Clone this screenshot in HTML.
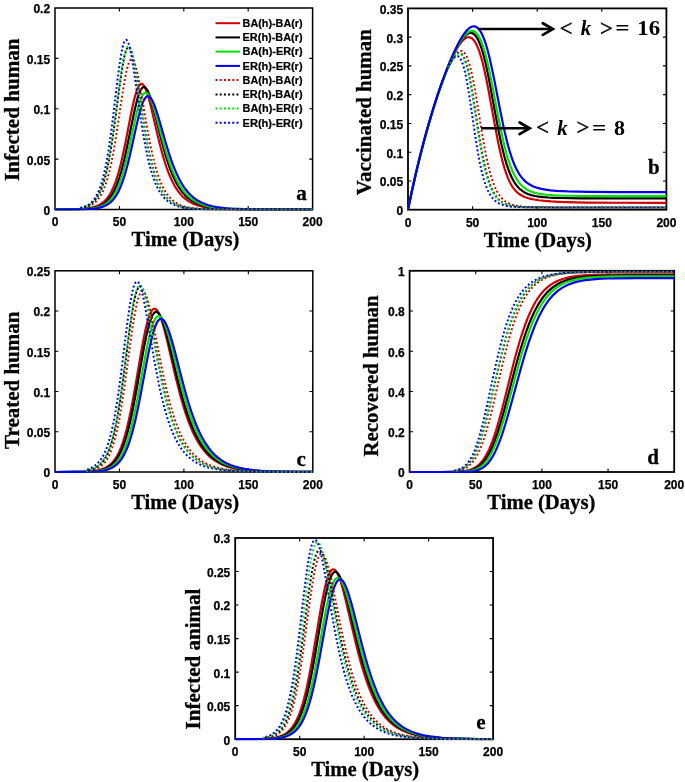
<!DOCTYPE html>
<html><head><meta charset="utf-8"><title>Figure</title>
<style>html,body{margin:0;padding:0;background:#fff;}body{width:685px;height:782px;overflow:hidden;font-family:"Liberation Sans",sans-serif;}svg{display:block;will-change:transform;}</style>
</head><body>
<svg width="685" height="782" viewBox="0 0 685 782">
<rect width="685" height="782" fill="#fff"/>
<defs>
<clipPath id="cpa"><rect x="54.50" y="7.50" width="258.60" height="203.10"/></clipPath>
<clipPath id="cpb"><rect x="407.50" y="7.90" width="259.40" height="202.90"/></clipPath>
<clipPath id="cpc"><rect x="54.50" y="270.30" width="258.80" height="202.80"/></clipPath>
<clipPath id="cpd"><rect x="409.10" y="270.30" width="265.60" height="202.80"/></clipPath>
<clipPath id="cpe"><rect x="234.70" y="537.50" width="258.90" height="202.80"/></clipPath>
</defs>
<g stroke="#000" fill="none" stroke-linecap="butt">
<rect x="55.00" y="8.00" width="257.60" height="201.50" stroke-width="1.50"/>
<path d="M119.40,209.50v-3.40M119.40,8.00v3.40M183.80,209.50v-3.40M183.80,8.00v3.40M248.20,209.50v-3.40M248.20,8.00v3.40M55.00,159.12h3.40M312.60,159.12h-3.40M55.00,108.75h3.40M312.60,108.75h-3.40M55.00,58.38h3.40M312.60,58.38h-3.40" stroke-width="1.10"/>
</g>
<g font-family="Liberation Sans, sans-serif" font-weight="bold" font-size="12" fill="#000" stroke="#000" stroke-width="0.25">
<text x="55.00" y="226.40" text-anchor="middle">0</text>
<text x="119.40" y="226.40" text-anchor="middle">50</text>
<text x="183.80" y="226.40" text-anchor="middle">100</text>
<text x="248.20" y="226.40" text-anchor="middle">150</text>
<text x="312.60" y="226.40" text-anchor="middle">200</text>
<text x="50.10" y="214.90" text-anchor="end">0</text>
<text x="50.10" y="164.53" text-anchor="end">0.05</text>
<text x="50.10" y="114.15" text-anchor="end">0.1</text>
<text x="50.10" y="63.77" text-anchor="end">0.15</text>
<text x="50.10" y="13.40" text-anchor="end">0.2</text>
</g>
<g clip-path="url(#cpa)" fill="none" stroke-width="2.20" stroke-linejoin="round">
<path d="M55.00,209.48 L70.13,209.35 L75.29,209.23 L79.79,209.03 L83.66,208.76 L86.88,208.42 L89.78,207.98 L92.67,207.37 L95.25,206.62 L97.50,205.75 L99.76,204.63 L101.69,203.42 L103.62,201.93 L105.55,200.08 L107.16,198.23 L108.77,196.04 L110.06,194.01 L111.35,191.70 L112.64,189.10 L113.93,186.16 L115.21,182.87 L116.18,180.15 L117.47,176.19 L118.43,172.94 L119.40,169.46 L120.69,164.46 L121.98,159.06 L123.26,153.27 L125.84,140.73 L131.31,112.58 L132.92,104.97 L134.53,98.18 L135.50,94.61 L136.47,91.48 L137.43,88.86 L138.08,87.40 L139.04,85.67 L139.69,84.83 L140.33,84.26 L140.65,84.06 L141.30,83.87 L141.94,83.94 L142.26,84.07 L142.91,84.51 L143.55,85.20 L144.52,86.66 L145.16,87.91 L146.13,90.17 L146.77,91.91 L147.74,94.83 L149.35,100.41 L150.96,106.67 L158.04,136.90 L159.65,143.45 L161.26,149.68 L163.19,156.64 L165.12,163.00 L166.73,167.83 L168.67,173.08 L170.60,177.76 L172.85,182.54 L174.78,186.10 L177.04,189.70 L179.29,192.78 L181.55,195.40 L182.83,196.71 L184.12,197.90 L186.70,199.97 L187.99,200.87 L189.60,201.87 L192.49,203.40 L195.71,204.74 L198.93,205.79 L202.48,206.68 L206.66,207.46 L211.17,208.06 L216.32,208.54 L221.47,208.85 L227.27,209.09 L242.08,209.37 L263.98,209.48 L312.60,209.50" stroke="#d40000"/>
<path d="M55.00,209.49 L71.42,209.39 L76.90,209.28 L81.40,209.12 L85.27,208.89 L88.81,208.56 L91.71,208.16 L94.28,207.67 L96.86,207.00 L99.11,206.23 L101.37,205.22 L103.30,204.12 L105.23,202.75 L107.16,201.05 L108.77,199.34 L110.38,197.30 L111.67,195.41 L112.96,193.26 L114.25,190.83 L115.54,188.08 L116.82,184.99 L117.79,182.44 L119.08,178.71 L120.04,175.65 L121.33,171.23 L122.62,166.41 L123.91,161.20 L125.20,155.64 L127.77,143.58 L133.57,114.93 L135.18,107.65 L136.79,101.15 L137.75,97.72 L138.72,94.72 L139.69,92.17 L140.33,90.74 L141.30,89.03 L142.26,87.85 L142.91,87.35 L143.23,87.20 L143.87,87.07 L144.52,87.17 L144.84,87.31 L145.48,87.76 L146.13,88.43 L147.09,89.84 L147.74,91.02 L148.70,93.15 L149.67,95.66 L150.63,98.51 L152.24,103.87 L153.85,109.83 L160.62,137.02 L162.55,144.45 L164.16,150.32 L166.09,156.91 L168.02,162.96 L169.95,168.46 L171.89,173.41 L173.82,177.84 L176.07,182.40 L178.00,185.82 L180.26,189.30 L182.51,192.29 L184.77,194.86 L186.05,196.16 L187.34,197.34 L189.92,199.41 L191.21,200.31 L192.82,201.33 L195.71,202.88 L198.93,204.27 L202.15,205.37 L206.02,206.38 L210.20,207.20 L214.71,207.85 L219.86,208.37 L225.02,208.72 L230.81,208.99 L237.57,209.19 L245.95,209.33 L267.84,209.47 L312.60,209.50" stroke="#000000"/>
<path d="M55.00,209.49 L72.39,209.41 L82.37,209.19 L86.23,209.00 L89.78,208.72 L93.00,208.34 L95.57,207.90 L98.15,207.30 L100.40,206.60 L102.66,205.68 L104.59,204.67 L106.52,203.42 L108.45,201.85 L110.06,200.27 L111.67,198.39 L112.96,196.63 L114.25,194.63 L115.54,192.36 L116.82,189.79 L118.11,186.91 L119.08,184.52 L120.37,181.02 L121.33,178.15 L122.62,174.00 L123.91,169.47 L125.20,164.57 L126.48,159.32 L129.06,147.94 L135.18,119.28 L136.79,112.40 L138.40,106.26 L139.36,103.02 L140.33,100.17 L141.30,97.74 L142.26,95.77 L143.23,94.28 L144.19,93.28 L144.84,92.89 L145.16,92.77 L145.80,92.71 L146.45,92.86 L146.77,93.02 L147.41,93.49 L148.06,94.15 L149.02,95.52 L149.67,96.65 L150.63,98.67 L151.60,101.02 L152.57,103.69 L154.18,108.68 L155.79,114.20 L162.87,140.62 L164.80,147.50 L166.41,152.94 L168.34,159.05 L170.28,164.68 L172.21,169.81 L174.14,174.45 L176.07,178.62 L178.33,182.92 L180.26,186.17 L182.51,189.49 L184.77,192.37 L186.05,193.83 L187.34,195.17 L189.92,197.52 L192.49,199.50 L195.39,201.34 L198.29,202.85 L201.51,204.20 L205.05,205.38 L208.92,206.36 L213.10,207.17 L217.61,207.80 L222.76,208.32 L227.91,208.68 L233.71,208.96 L240.47,209.16 L248.84,209.31 L270.42,209.46 L312.60,209.50" stroke="#00e000"/>
<path d="M55.00,209.49 L73.68,209.43 L83.98,209.25 L87.84,209.09 L91.39,208.85 L94.61,208.52 L97.18,208.14 L99.76,207.61 L102.33,206.88 L104.59,206.02 L106.52,205.08 L108.45,203.90 L110.38,202.42 L111.99,200.92 L113.60,199.13 L115.21,197.00 L116.50,195.03 L118.11,192.17 L119.40,189.55 L121.01,185.83 L122.30,182.45 L123.59,178.72 L124.87,174.61 L127.13,166.56 L129.38,157.47 L131.64,147.58 L136.14,126.96 L138.08,118.63 L140.01,111.17 L141.62,105.89 L142.58,103.20 L143.23,101.64 L144.19,99.65 L144.84,98.57 L145.80,97.32 L146.45,96.75 L147.09,96.38 L147.41,96.27 L148.06,96.21 L148.70,96.35 L149.02,96.49 L149.67,96.91 L150.31,97.52 L151.28,98.77 L152.24,100.39 L153.21,102.34 L154.18,104.60 L155.14,107.13 L156.75,111.84 L158.36,117.02 L165.77,142.80 L167.70,149.22 L169.31,154.30 L171.24,160.03 L173.17,165.33 L175.11,170.18 L177.04,174.59 L178.97,178.58 L181.22,182.72 L183.48,186.35 L185.73,189.52 L187.99,192.29 L190.56,195.00 L193.14,197.30 L195.71,199.24 L198.61,201.07 L201.83,202.72 L205.05,204.06 L208.59,205.23 L212.46,206.22 L216.64,207.04 L221.15,207.69 L226.30,208.23 L231.46,208.61 L237.57,208.91 L244.34,209.13 L252.39,209.29 L273.32,209.45 L312.60,209.50" stroke="#0000f0"/>
<path d="M79.47,208.51 L82.05,208.12 L84.62,207.59 L86.88,206.95 L88.81,206.25 L90.74,205.35 L92.35,204.43 L93.96,203.30 L95.57,201.93 L97.18,200.27 L98.47,198.69 L99.76,196.87 L101.05,194.75 L102.33,192.31 L103.30,190.25 L104.59,187.14 L105.55,184.53 L106.52,181.65 L107.49,178.48 L108.45,175.02 L109.42,171.25 L111.35,162.73 L113.28,152.88 L114.89,143.69 L116.50,133.71 L121.65,99.09 L123.26,88.68 L124.55,81.02 L125.84,74.21 L126.81,69.80 L127.45,67.24 L128.09,65.00 L128.74,63.12 L129.70,60.97 L130.35,60.01 L130.99,59.43 L131.31,59.29 L131.64,59.24 L131.96,59.29 L132.28,59.43 L132.92,60.00 L133.57,60.94 L134.53,63.00 L135.18,64.78 L135.82,66.88 L136.47,69.26 L137.43,73.31 L138.72,79.48 L140.33,88.12 L146.45,124.17 L149.35,140.01 L150.96,147.99 L152.57,155.30 L154.18,161.92 L156.11,169.00 L157.72,174.19 L159.65,179.64 L161.58,184.31 L163.51,188.30 L164.48,190.07 L165.77,192.21 L166.73,193.66 L168.02,195.42 L168.99,196.61 L170.28,198.05 L171.56,199.34 L172.85,200.48 L174.14,201.49 L175.43,202.40 L178.00,203.91 L179.29,204.55 L180.90,205.24 L183.80,206.25 L187.02,207.10 L190.88,207.83 L195.07,208.37 L200.22,208.81 L205.05,209.06 L210.53,209.24 L225.34,209.43 L247.56,209.49 L312.60,209.50" stroke="#d40000" stroke-width="2.0" stroke-dasharray="1.9 2.3" stroke-dashoffset="3.70"/>
<path d="M79.47,208.24 L81.73,207.80 L83.98,207.22 L85.91,206.57 L87.84,205.74 L89.78,204.67 L91.39,203.56 L93.00,202.20 L94.28,200.90 L95.57,199.38 L96.86,197.60 L98.15,195.53 L99.44,193.12 L100.72,190.33 L101.69,187.95 L102.98,184.37 L103.94,181.35 L104.91,178.01 L105.88,174.33 L106.84,170.30 L107.81,165.90 L109.42,157.71 L111.35,146.45 L112.64,138.12 L114.25,126.87 L119.08,90.23 L120.69,78.48 L121.98,69.88 L123.26,62.32 L124.23,57.49 L124.87,54.73 L125.52,52.38 L126.16,50.44 L126.81,48.95 L127.45,47.90 L127.77,47.55 L128.09,47.31 L128.42,47.19 L128.74,47.18 L129.06,47.28 L129.38,47.50 L130.03,48.26 L130.67,49.45 L131.31,51.05 L131.96,53.04 L132.60,55.39 L133.25,58.08 L134.21,62.67 L135.50,69.67 L136.79,77.43 L142.91,117.62 L144.52,127.60 L145.80,135.13 L147.41,143.88 L149.02,151.86 L150.63,159.06 L152.24,165.50 L154.18,172.28 L156.11,178.11 L158.04,183.09 L159.97,187.33 L160.94,189.19 L162.23,191.45 L163.19,192.99 L164.48,194.84 L165.45,196.09 L166.73,197.60 L168.02,198.94 L169.31,200.14 L170.60,201.20 L171.89,202.14 L173.17,202.98 L174.46,203.72 L175.75,204.38 L177.36,205.10 L180.26,206.15 L183.80,207.10 L187.66,207.83 L191.85,208.38 L197.00,208.81 L201.83,209.06 L207.31,209.24 L222.44,209.44 L312.60,209.50" stroke="#000000" stroke-width="2.0" stroke-dasharray="1.9 2.3" stroke-dashoffset="3.45"/>
<path d="M79.47,208.21 L81.73,207.77 L83.98,207.18 L85.91,206.51 L87.84,205.65 L89.78,204.56 L91.39,203.42 L93.00,202.02 L94.28,200.68 L95.57,199.11 L96.86,197.28 L98.15,195.15 L99.44,192.67 L100.72,189.79 L101.69,187.34 L102.66,184.62 L103.62,181.61 L104.59,178.27 L105.55,174.60 L106.52,170.58 L107.49,166.17 L109.10,157.97 L111.03,146.67 L112.64,136.10 L114.25,124.61 L118.76,90.01 L120.37,78.14 L121.65,69.45 L122.94,61.81 L123.91,56.93 L124.55,54.15 L125.20,51.78 L125.84,49.83 L126.48,48.32 L127.13,47.28 L127.45,46.93 L127.77,46.69 L128.09,46.57 L128.42,46.57 L128.74,46.68 L129.06,46.91 L129.70,47.69 L130.35,48.92 L130.99,50.55 L131.64,52.58 L132.28,54.97 L132.92,57.70 L133.89,62.36 L135.18,69.44 L136.47,77.29 L142.26,115.70 L143.87,125.84 L145.16,133.50 L146.77,142.41 L148.38,150.55 L149.99,157.90 L151.60,164.49 L153.53,171.42 L155.46,177.38 L157.40,182.48 L159.33,186.81 L160.29,188.73 L161.58,191.04 L162.55,192.61 L163.84,194.50 L164.80,195.78 L166.09,197.33 L167.38,198.70 L168.67,199.92 L169.95,201.01 L171.24,201.97 L172.53,202.83 L173.82,203.59 L175.11,204.26 L176.72,205.00 L179.61,206.07 L183.16,207.05 L187.02,207.80 L191.21,208.35 L196.36,208.79 L201.19,209.05 L206.66,209.23 L221.80,209.44 L244.66,209.49 L312.60,209.50" stroke="#00e000" stroke-width="2.0" stroke-dasharray="1.9 2.3" stroke-dashoffset="2.12"/>
<path d="M79.47,208.07 L81.73,207.56 L83.98,206.86 L85.91,206.08 L87.52,205.25 L89.13,204.23 L90.74,202.96 L92.03,201.74 L93.32,200.30 L94.61,198.61 L95.89,196.61 L97.18,194.27 L98.15,192.26 L99.44,189.20 L100.40,186.57 L101.37,183.65 L102.33,180.39 L103.30,176.77 L104.27,172.78 L105.88,165.21 L107.49,156.43 L109.42,144.27 L110.71,135.20 L112.32,122.92 L116.82,85.59 L118.43,72.75 L119.72,63.39 L121.01,55.21 L122.30,48.55 L122.94,45.86 L123.59,43.65 L124.23,41.93 L124.87,40.72 L125.20,40.30 L125.52,40.02 L125.84,39.86 L126.16,39.83 L126.48,39.92 L126.81,40.14 L127.45,40.96 L128.09,42.25 L128.74,44.01 L129.38,46.19 L130.03,48.77 L131.31,55.00 L132.60,62.40 L133.89,70.68 L139.69,111.51 L141.30,122.27 L142.58,130.39 L144.19,139.82 L145.80,148.41 L147.41,156.13 L149.02,163.03 L150.96,170.27 L152.89,176.48 L154.82,181.78 L156.75,186.26 L157.72,188.24 L159.01,190.62 L159.97,192.24 L161.26,194.18 L162.23,195.50 L163.51,197.09 L164.80,198.50 L166.09,199.75 L167.38,200.86 L168.67,201.85 L169.95,202.72 L171.24,203.50 L172.53,204.18 L174.14,204.93 L177.04,206.03 L180.58,207.01 L184.44,207.78 L188.63,208.34 L193.78,208.79 L198.61,209.05 L204.09,209.23 L219.22,209.44 L242.08,209.49 L312.60,209.50" stroke="#0000f0" stroke-width="2.0" stroke-dasharray="1.9 2.3" stroke-dashoffset="3.57"/>
</g>
<text transform="translate(18.60,109.65) rotate(-90)" text-anchor="middle" font-family="Liberation Serif, serif" font-weight="bold" font-size="20.7" textLength="142.5" lengthAdjust="spacingAndGlyphs" fill="#000" stroke="#000" stroke-width="0.3">Infected human</text>
<text x="185.50" y="245.90" text-anchor="middle" font-family="Liberation Serif, serif" font-weight="bold" font-size="20.7" textLength="108" lengthAdjust="spacingAndGlyphs" fill="#000" stroke="#000" stroke-width="0.3">Time (Days)</text>
<text x="301.50" y="200.40" text-anchor="middle" font-family="Liberation Serif, serif" font-weight="bold" font-size="21" fill="#000" stroke="#000" stroke-width="0.3">a</text>
<g stroke="#000" fill="none" stroke-linecap="butt">
<rect x="408.00" y="8.40" width="258.40" height="201.30" stroke-width="1.80"/>
<path d="M472.60,209.70v-3.40M472.60,8.40v3.40M537.20,209.70v-3.40M537.20,8.40v3.40M601.80,209.70v-3.40M601.80,8.40v3.40M408.00,180.94h3.40M666.40,180.94h-3.40M408.00,152.19h3.40M666.40,152.19h-3.40M408.00,123.43h3.40M666.40,123.43h-3.40M408.00,94.67h3.40M666.40,94.67h-3.40M408.00,65.91h3.40M666.40,65.91h-3.40M408.00,37.16h3.40M666.40,37.16h-3.40" stroke-width="1.10"/>
</g>
<g font-family="Liberation Sans, sans-serif" font-weight="bold" font-size="12" fill="#000" stroke="#000" stroke-width="0.25">
<text x="408.00" y="226.60" text-anchor="middle">0</text>
<text x="472.60" y="226.60" text-anchor="middle">50</text>
<text x="537.20" y="226.60" text-anchor="middle">100</text>
<text x="601.80" y="226.60" text-anchor="middle">150</text>
<text x="666.40" y="226.60" text-anchor="middle">200</text>
<text x="403.10" y="215.10" text-anchor="end">0</text>
<text x="403.10" y="186.34" text-anchor="end">0.05</text>
<text x="403.10" y="157.59" text-anchor="end">0.1</text>
<text x="403.10" y="128.83" text-anchor="end">0.15</text>
<text x="403.10" y="100.07" text-anchor="end">0.2</text>
<text x="403.10" y="71.31" text-anchor="end">0.25</text>
<text x="403.10" y="42.56" text-anchor="end">0.3</text>
<text x="403.10" y="13.80" text-anchor="end">0.35</text>
</g>
<g clip-path="url(#cpb)" fill="none" stroke-width="2.20" stroke-linejoin="round">
<path d="M408.00,209.38 L411.55,192.59 L415.43,175.34 L419.31,159.14 L423.50,142.70 L427.70,127.35 L431.90,113.02 L436.10,99.67 L440.30,87.27 L442.56,81.00 L444.50,75.85 L446.76,70.11 L448.70,65.44 L450.64,61.02 L452.57,56.85 L454.51,52.97 L456.45,49.40 L458.06,46.69 L459.68,44.26 L461.30,42.12 L462.91,40.31 L464.52,38.87 L465.82,38.02 L466.79,37.57 L467.43,37.36 L468.08,37.24 L468.72,37.20 L469.69,37.30 L470.34,37.48 L471.31,37.94 L471.95,38.37 L472.92,39.21 L473.57,39.91 L474.86,41.65 L475.83,43.27 L476.48,44.50 L477.77,47.34 L479.06,50.70 L480.35,54.59 L481.64,59.00 L482.94,63.92 L484.23,69.32 L485.84,76.71 L488.75,91.47 L494.89,125.26 L497.47,138.82 L499.09,146.67 L500.38,152.51 L501.67,157.94 L502.96,162.93 L504.58,168.53 L506.19,173.44 L507.81,177.69 L508.78,179.95 L509.75,182.00 L510.71,183.85 L511.68,185.53 L512.65,187.05 L513.62,188.41 L515.56,190.74 L516.53,191.73 L517.82,192.90 L519.11,193.91 L520.40,194.78 L521.70,195.55 L522.99,196.21 L524.60,196.93 L526.22,197.54 L527.83,198.06 L529.77,198.59 L533.97,199.50 L538.81,200.24 L544.63,200.88 L551.09,201.39 L558.19,201.79 L566.59,202.11 L575.96,202.35 L587.26,202.53 L616.01,202.73 L666.40,202.79" stroke="#d40000"/>
<path d="M408.00,209.52 L411.55,192.75 L415.43,175.53 L419.31,159.36 L423.50,142.95 L427.70,127.63 L431.90,113.32 L436.10,99.98 L438.36,93.18 L440.62,86.64 L442.88,80.37 L445.14,74.36 L447.41,68.62 L449.34,63.93 L451.61,58.73 L453.54,54.53 L455.48,50.58 L457.42,46.91 L459.36,43.55 L460.97,41.02 L462.91,38.35 L464.52,36.47 L466.14,34.94 L467.43,34.01 L468.40,33.49 L469.05,33.23 L469.69,33.06 L470.34,32.97 L471.31,33.00 L471.95,33.13 L472.60,33.35 L473.25,33.68 L474.21,34.37 L474.86,34.96 L476.15,36.50 L477.12,37.96 L477.77,39.09 L479.06,41.74 L480.35,44.92 L481.64,48.64 L482.94,52.89 L484.23,57.67 L485.52,62.96 L487.13,70.22 L488.43,76.48 L490.04,84.77 L496.18,118.25 L499.09,133.33 L500.70,141.06 L501.99,146.84 L503.61,153.49 L504.90,158.35 L506.51,163.84 L508.45,169.59 L510.07,173.73 L512.01,177.98 L513.94,181.52 L514.91,183.07 L516.20,184.90 L517.17,186.13 L518.47,187.60 L519.43,188.58 L520.73,189.74 L522.99,191.43 L524.28,192.23 L525.57,192.93 L526.86,193.54 L528.48,194.20 L531.39,195.15 L534.94,195.99 L538.81,196.63 L543.34,197.14 L548.50,197.52 L554.32,197.80 L561.42,198.02 L580.48,198.29 L608.91,198.40 L666.40,198.43" stroke="#000000"/>
<path d="M408.00,209.52 L411.88,191.28 L415.75,174.15 L419.63,158.06 L423.83,141.74 L428.03,126.50 L430.29,118.71 L432.55,111.21 L436.75,98.01 L439.01,91.28 L441.27,84.81 L443.53,78.60 L445.79,72.65 L448.05,66.97 L450.31,61.56 L452.57,56.45 L454.51,52.31 L456.45,48.43 L458.39,44.81 L460.33,41.50 L461.94,39.01 L463.88,36.36 L465.49,34.49 L467.11,32.95 L468.72,31.80 L469.69,31.31 L470.34,31.07 L471.63,30.84 L472.60,30.87 L473.25,31.01 L474.21,31.39 L474.86,31.76 L475.83,32.51 L476.48,33.15 L477.77,34.75 L478.74,36.25 L479.38,37.41 L480.67,40.08 L481.97,43.26 L483.26,46.95 L484.55,51.14 L485.84,55.83 L487.13,60.99 L488.75,68.05 L491.66,82.13 L498.12,116.07 L500.70,129.01 L502.32,136.55 L503.93,143.57 L505.55,150.01 L506.84,154.74 L508.45,160.12 L510.39,165.79 L512.33,170.68 L514.27,174.83 L516.20,178.34 L517.17,179.88 L518.47,181.72 L519.43,182.97 L520.73,184.46 L522.02,185.78 L523.31,186.94 L525.57,188.65 L526.86,189.47 L528.16,190.20 L529.45,190.84 L531.06,191.53 L532.68,192.12 L534.29,192.63 L537.85,193.51 L541.72,194.19 L546.24,194.74 L551.74,195.19 L557.55,195.49 L564.65,195.73 L583.39,196.02 L611.49,196.15 L666.40,196.18" stroke="#00e000"/>
<path d="M408.00,209.41 L411.88,191.15 L416.07,172.61 L420.27,155.29 L424.47,139.09 L428.67,123.96 L433.19,108.76 L437.72,94.64 L439.98,87.96 L442.24,81.54 L444.82,74.51 L447.08,68.63 L449.34,63.00 L451.61,57.63 L453.87,52.55 L455.80,48.43 L458.06,43.93 L460.00,40.36 L461.94,37.08 L463.88,34.14 L465.82,31.57 L467.43,29.76 L469.05,28.29 L470.66,27.19 L471.63,26.73 L472.28,26.51 L473.57,26.31 L474.54,26.37 L475.18,26.51 L476.15,26.90 L476.80,27.28 L477.77,28.04 L478.41,28.67 L479.71,30.25 L480.67,31.73 L481.32,32.87 L482.61,35.49 L483.90,38.60 L485.20,42.19 L486.49,46.27 L488.10,52.05 L489.40,57.17 L491.01,64.14 L493.92,77.98 L500.38,111.21 L503.28,125.40 L504.90,132.71 L506.51,139.50 L508.13,145.75 L509.42,150.33 L511.04,155.54 L512.98,161.05 L514.91,165.81 L516.85,169.87 L518.79,173.31 L519.76,174.82 L521.05,176.65 L522.02,177.88 L523.31,179.36 L524.60,180.68 L525.89,181.84 L527.19,182.88 L528.48,183.80 L531.06,185.34 L533.97,186.68 L535.59,187.29 L537.52,187.92 L541.40,188.90 L545.60,189.67 L550.44,190.29 L556.26,190.81 L562.39,191.18 L569.82,191.48 L578.54,191.71 L589.20,191.87 L616.66,192.04 L666.40,192.10" stroke="#0000f0"/>
<path d="M448.05,68.34 L449.67,64.85 L451.28,61.63 L452.90,58.71 L454.19,56.62 L455.48,54.80 L456.77,53.27 L458.06,52.07 L459.03,51.42 L459.68,51.12 L460.33,50.93 L461.30,50.87 L462.26,51.10 L463.23,51.66 L464.20,52.55 L465.17,53.82 L466.14,55.47 L467.11,57.54 L468.08,60.04 L468.72,61.94 L470.02,66.34 L471.31,71.52 L472.92,79.02 L474.21,85.77 L475.83,94.95 L481.64,130.84 L484.23,145.82 L485.84,154.31 L487.13,160.52 L488.43,166.20 L490.04,172.54 L491.66,178.06 L492.63,181.00 L493.59,183.68 L495.21,187.62 L496.18,189.68 L497.15,191.55 L498.12,193.23 L499.09,194.74 L500.06,196.10 L501.35,197.70 L502.64,199.08 L503.93,200.26 L505.22,201.29 L506.51,202.17 L508.45,203.26 L510.71,204.25 L513.30,205.10 L515.88,205.72 L518.79,206.22 L522.34,206.64 L526.22,206.93 L530.74,207.13 L539.78,207.31 L553.67,207.38 L666.40,207.40" stroke="#d40000" stroke-width="2.0" stroke-dasharray="1.9 2.3" stroke-dashoffset="3.32"/>
<path d="M448.05,67.72 L449.34,64.95 L450.64,62.37 L451.93,60.02 L453.22,57.92 L454.51,56.12 L455.48,54.99 L456.77,53.83 L457.74,53.25 L458.71,52.94 L459.68,52.94 L460.65,53.28 L461.62,53.99 L462.59,55.10 L463.23,56.08 L464.20,57.92 L464.85,59.40 L466.14,63.03 L467.43,67.54 L468.72,72.92 L470.34,80.82 L471.63,87.97 L472.92,95.71 L478.41,131.32 L481.00,147.01 L482.61,155.82 L483.90,162.22 L485.20,168.02 L486.49,173.22 L488.10,178.91 L489.72,183.77 L491.33,187.87 L492.30,190.01 L493.27,191.93 L494.24,193.65 L495.21,195.19 L496.18,196.56 L497.47,198.17 L498.44,199.21 L499.73,200.43 L501.02,201.48 L502.32,202.36 L504.25,203.46 L506.51,204.44 L508.78,205.18 L511.36,205.80 L514.27,206.30 L517.50,206.67 L521.37,206.95 L526.22,207.16 L534.94,207.32 L548.83,207.39 L666.40,207.40" stroke="#000000" stroke-width="2.0" stroke-dasharray="1.9 2.3" stroke-dashoffset="3.73"/>
<path d="M448.05,67.67 L449.34,64.91 L450.64,62.35 L451.93,60.02 L453.22,57.96 L454.51,56.21 L455.48,55.14 L456.45,54.28 L457.42,53.69 L458.39,53.37 L459.36,53.37 L460.33,53.72 L461.30,54.44 L462.26,55.57 L462.91,56.57 L463.88,58.45 L464.52,59.97 L465.82,63.68 L467.11,68.29 L468.40,73.80 L470.02,81.86 L471.31,89.14 L472.60,97.02 L477.77,130.87 L480.35,146.73 L481.97,155.64 L483.26,162.11 L484.55,167.97 L485.84,173.22 L487.46,178.96 L489.07,183.85 L490.69,187.97 L491.66,190.11 L492.63,192.04 L493.59,193.76 L494.56,195.30 L495.53,196.67 L496.82,198.27 L497.79,199.31 L499.09,200.53 L500.38,201.56 L501.67,202.44 L503.61,203.52 L505.87,204.49 L508.13,205.22 L510.71,205.84 L513.62,206.32 L516.85,206.69 L520.73,206.97 L525.57,207.17 L534.29,207.32 L548.18,207.39 L666.40,207.40" stroke="#00e000" stroke-width="2.0" stroke-dasharray="1.9 2.3" stroke-dashoffset="4.13"/>
<path d="M448.05,67.65 L449.34,64.99 L450.31,63.15 L451.61,60.95 L452.57,59.52 L453.54,58.30 L454.51,57.33 L455.48,56.63 L456.13,56.33 L457.10,56.17 L457.74,56.27 L458.39,56.54 L458.71,56.75 L459.36,57.32 L460.33,58.56 L460.97,59.66 L461.62,61.00 L462.26,62.59 L463.56,66.51 L464.52,70.12 L465.82,75.82 L467.11,82.49 L468.40,90.00 L469.69,98.20 L474.86,133.57 L477.12,147.97 L478.41,155.42 L479.71,162.22 L481.00,168.35 L482.29,173.79 L483.90,179.69 L485.52,184.67 L487.13,188.82 L488.10,190.96 L489.07,192.86 L490.04,194.56 L491.01,196.06 L491.98,197.39 L492.95,198.57 L493.92,199.62 L495.21,200.82 L496.18,201.60 L497.47,202.50 L499.41,203.60 L501.67,204.57 L503.93,205.29 L506.51,205.89 L509.42,206.37 L512.65,206.72 L516.53,206.98 L521.05,207.16 L530.09,207.32 L544.31,207.39 L666.40,207.40" stroke="#0000f0" stroke-width="2.0" stroke-dasharray="1.9 2.3" stroke-dashoffset="1.37"/>
</g>
<text transform="translate(370.70,112.20) rotate(-90)" text-anchor="middle" font-family="Liberation Serif, serif" font-weight="bold" font-size="20.7" textLength="166.0" lengthAdjust="spacingAndGlyphs" fill="#000" stroke="#000" stroke-width="0.3">Vaccinated human</text>
<text x="537.80" y="246.50" text-anchor="middle" font-family="Liberation Serif, serif" font-weight="bold" font-size="20.7" textLength="108" lengthAdjust="spacingAndGlyphs" fill="#000" stroke="#000" stroke-width="0.3">Time (Days)</text>
<text x="653.80" y="173.70" text-anchor="middle" font-family="Liberation Serif, serif" font-weight="bold" font-size="21" fill="#000" stroke="#000" stroke-width="0.3">b</text>
<g stroke="#000" fill="none" stroke-linecap="butt">
<rect x="55.00" y="270.80" width="257.80" height="201.20" stroke-width="1.50"/>
<path d="M119.45,472.00v-3.40M119.45,270.80v3.40M183.90,472.00v-3.40M183.90,270.80v3.40M248.35,472.00v-3.40M248.35,270.80v3.40M55.00,431.76h3.40M312.80,431.76h-3.40M55.00,391.52h3.40M312.80,391.52h-3.40M55.00,351.28h3.40M312.80,351.28h-3.40M55.00,311.04h3.40M312.80,311.04h-3.40" stroke-width="1.10"/>
</g>
<g font-family="Liberation Sans, sans-serif" font-weight="bold" font-size="12" fill="#000" stroke="#000" stroke-width="0.25">
<text x="55.00" y="488.90" text-anchor="middle">0</text>
<text x="119.45" y="488.90" text-anchor="middle">50</text>
<text x="183.90" y="488.90" text-anchor="middle">100</text>
<text x="248.35" y="488.90" text-anchor="middle">150</text>
<text x="312.80" y="488.90" text-anchor="middle">200</text>
<text x="50.10" y="477.40" text-anchor="end">0</text>
<text x="50.10" y="437.16" text-anchor="end">0.05</text>
<text x="50.10" y="396.92" text-anchor="end">0.1</text>
<text x="50.10" y="356.68" text-anchor="end">0.15</text>
<text x="50.10" y="316.44" text-anchor="end">0.2</text>
<text x="50.10" y="276.20" text-anchor="end">0.25</text>
</g>
<g clip-path="url(#cpc)" fill="none" stroke-width="2.20" stroke-linejoin="round">
<path d="M55.00,471.99 L74.66,471.91 L80.46,471.82 L85.29,471.66 L89.48,471.43 L93.03,471.10 L96.25,470.66 L99.15,470.07 L101.73,469.34 L104.30,468.36 L106.56,467.21 L108.82,465.73 L110.75,464.13 L112.68,462.15 L114.62,459.73 L116.23,457.30 L117.84,454.46 L119.45,451.14 L121.06,447.31 L122.35,443.83 L123.96,438.93 L125.25,434.55 L126.86,428.47 L128.15,423.12 L129.44,417.35 L130.73,411.16 L133.31,397.66 L135.56,384.89 L140.72,354.57 L142.97,342.09 L144.91,332.44 L145.87,328.09 L146.84,324.11 L147.81,320.54 L148.77,317.41 L149.74,314.73 L150.71,312.54 L151.68,310.84 L152.64,309.64 L152.96,309.35 L153.61,308.94 L153.93,308.81 L154.58,308.73 L154.90,308.76 L155.54,309.00 L155.86,309.19 L156.51,309.73 L157.48,310.91 L158.44,312.51 L159.41,314.50 L160.38,316.85 L161.34,319.52 L162.63,323.55 L164.56,330.39 L166.50,337.97 L168.75,347.42 L175.20,375.14 L177.13,383.08 L179.07,390.67 L181.32,399.00 L183.58,406.73 L185.51,412.85 L187.77,419.40 L190.02,425.34 L192.28,430.69 L194.53,435.49 L196.79,439.77 L199.05,443.59 L201.62,447.44 L204.20,450.78 L205.49,452.29 L207.10,454.02 L208.71,455.61 L210.32,457.07 L211.94,458.39 L213.55,459.60 L215.16,460.71 L217.09,461.91 L218.70,462.81 L220.64,463.79 L222.57,464.66 L224.50,465.45 L226.44,466.15 L228.69,466.87 L233.20,468.06 L238.36,469.09 L243.84,469.89 L249.64,470.50 L256.08,470.97 L263.82,471.35 L272.52,471.61 L282.83,471.79 L312.80,471.96" stroke="#d40000"/>
<path d="M55.00,471.99 L75.62,471.92 L81.75,471.83 L86.58,471.69 L90.77,471.46 L94.31,471.15 L97.54,470.72 L100.44,470.16 L103.02,469.46 L105.59,468.51 L107.85,467.41 L110.10,465.98 L112.04,464.43 L113.97,462.52 L115.91,460.18 L117.52,457.83 L119.13,455.09 L120.74,451.88 L122.35,448.17 L123.96,443.91 L125.57,439.05 L126.86,434.72 L128.15,429.96 L129.76,423.44 L132.02,413.22 L134.60,400.16 L137.17,385.95 L142.01,358.23 L144.26,345.98 L146.52,334.95 L147.49,330.73 L148.45,326.88 L149.42,323.41 L150.39,320.37 L151.35,317.77 L152.32,315.63 L153.29,313.97 L154.25,312.79 L154.58,312.50 L155.22,312.09 L155.54,311.96 L156.19,311.86 L156.51,311.89 L157.15,312.10 L158.12,312.78 L159.09,313.90 L160.05,315.42 L161.02,317.31 L162.31,320.39 L163.28,323.05 L164.56,327.04 L166.50,333.78 L168.43,341.20 L170.69,350.41 L176.81,376.07 L179.07,385.09 L181.00,392.47 L183.26,400.57 L185.51,408.08 L187.44,414.04 L189.70,420.42 L191.96,426.21 L194.21,431.43 L196.47,436.11 L198.72,440.30 L200.98,444.04 L203.56,447.80 L206.14,451.08 L208.71,453.93 L210.32,455.52 L211.94,456.98 L213.55,458.30 L215.16,459.52 L216.77,460.62 L218.70,461.83 L220.31,462.73 L222.25,463.71 L224.18,464.59 L226.11,465.38 L228.05,466.08 L230.30,466.81 L234.82,468.01 L239.97,469.05 L245.13,469.82 L250.93,470.44 L257.37,470.93 L265.11,471.32 L273.49,471.58 L283.80,471.77 L312.80,471.96" stroke="#000000"/>
<path d="M55.00,472.00 L76.59,471.94 L87.87,471.74 L92.38,471.53 L95.93,471.25 L99.15,470.86 L102.05,470.36 L104.95,469.63 L107.53,468.74 L109.78,467.70 L112.04,466.34 L113.97,464.88 L115.91,463.06 L117.84,460.83 L119.45,458.60 L121.06,455.99 L122.67,452.94 L124.28,449.41 L125.90,445.35 L127.51,440.72 L128.80,436.58 L130.41,430.86 L131.70,425.82 L132.98,420.40 L134.27,414.59 L136.85,401.93 L139.11,389.95 L144.59,359.71 L146.84,348.02 L149.10,337.56 L150.06,333.58 L151.03,329.95 L152.00,326.69 L152.96,323.85 L153.93,321.43 L154.90,319.45 L155.86,317.92 L156.83,316.84 L157.15,316.59 L157.80,316.22 L158.12,316.12 L158.76,316.05 L159.09,316.09 L159.73,316.32 L160.70,317.01 L161.66,318.11 L162.63,319.58 L163.60,321.42 L164.89,324.38 L165.85,326.94 L167.14,330.77 L169.08,337.23 L171.01,344.34 L173.27,353.18 L179.71,379.14 L181.97,387.81 L183.90,394.89 L186.16,402.67 L188.41,409.90 L190.35,415.63 L192.60,421.78 L194.86,427.37 L197.11,432.41 L199.37,436.94 L201.62,441.00 L203.88,444.63 L206.46,448.29 L209.04,451.48 L211.61,454.26 L214.51,456.95 L216.13,458.27 L217.74,459.48 L219.35,460.58 L221.28,461.78 L222.89,462.68 L224.83,463.66 L226.76,464.54 L228.69,465.33 L230.63,466.04 L232.88,466.77 L237.39,467.97 L242.55,469.01 L247.71,469.78 L253.51,470.42 L259.95,470.91 L267.04,471.28 L275.42,471.56 L285.09,471.75 L312.80,471.95" stroke="#00e000"/>
<path d="M55.00,472.00 L77.88,471.95 L89.48,471.77 L93.99,471.58 L97.54,471.32 L100.76,470.97 L103.66,470.51 L106.56,469.84 L109.14,469.02 L111.39,468.05 L113.65,466.80 L114.94,465.92 L115.91,465.17 L117.84,463.42 L119.77,461.27 L121.38,459.11 L122.99,456.58 L124.61,453.63 L126.22,450.21 L127.83,446.27 L129.44,441.79 L131.05,436.72 L132.34,432.23 L133.95,426.07 L135.24,420.71 L136.53,414.98 L139.11,402.54 L141.36,390.80 L146.52,363.01 L148.77,351.53 L151.03,341.18 L152.00,337.21 L152.96,333.57 L154.25,329.27 L155.22,326.51 L156.19,324.15 L157.15,322.21 L158.12,320.70 L159.09,319.63 L159.41,319.37 L160.05,319.00 L160.38,318.88 L161.02,318.79 L161.34,318.82 L161.99,319.01 L162.95,319.63 L163.92,320.64 L164.56,321.52 L165.21,322.56 L166.18,324.40 L167.47,327.33 L168.43,329.85 L169.72,333.60 L171.65,339.90 L173.59,346.81 L175.84,355.40 L182.29,380.60 L184.54,389.02 L186.48,395.92 L188.73,403.51 L190.99,410.57 L192.92,416.18 L195.18,422.21 L197.11,426.94 L199.37,431.98 L201.62,436.51 L203.88,440.58 L206.14,444.22 L208.71,447.90 L211.29,451.12 L213.87,453.93 L216.77,456.65 L218.38,457.99 L219.99,459.21 L221.60,460.33 L223.54,461.55 L225.15,462.47 L227.08,463.46 L229.02,464.36 L230.95,465.16 L232.88,465.88 L235.14,466.63 L239.65,467.86 L244.48,468.86 L249.64,469.67 L255.12,470.30 L261.56,470.83 L268.65,471.23 L276.71,471.51 L286.38,471.72 L297.98,471.86 L312.80,471.94" stroke="#0000f0"/>
<path d="M85.94,471.26 L88.84,470.90 L91.41,470.42 L93.67,469.85 L95.93,469.07 L97.86,468.19 L99.79,467.06 L101.40,465.88 L103.02,464.42 L104.63,462.65 L105.92,460.95 L107.20,458.98 L108.49,456.68 L109.78,454.02 L111.07,450.95 L112.36,447.43 L113.33,444.47 L114.62,440.06 L115.58,436.38 L117.52,428.01 L119.45,418.23 L121.38,407.06 L122.99,396.73 L124.61,385.62 L130.08,344.92 L132.02,331.10 L133.63,320.54 L135.24,311.25 L136.21,306.41 L137.17,302.18 L138.14,298.62 L139.11,295.74 L140.07,293.59 L140.72,292.55 L141.04,292.15 L141.69,291.59 L142.01,291.42 L142.65,291.33 L143.30,291.54 L143.62,291.76 L144.26,292.41 L144.91,293.34 L145.87,295.22 L146.84,297.66 L147.81,300.59 L148.77,303.97 L149.74,307.74 L151.35,314.73 L152.96,322.41 L160.70,362.34 L162.63,371.89 L164.56,380.97 L166.82,390.86 L168.75,398.70 L170.69,405.92 L172.94,413.60 L175.20,420.49 L177.46,426.64 L179.71,432.11 L181.00,434.96 L182.29,437.61 L183.58,440.08 L184.87,442.38 L187.44,446.52 L188.73,448.37 L190.35,450.50 L191.63,452.07 L193.25,453.87 L194.86,455.51 L196.47,457.01 L198.08,458.37 L199.69,459.61 L201.30,460.74 L203.24,461.96 L205.17,463.05 L207.10,464.02 L209.04,464.88 L211.29,465.77 L213.55,466.56 L215.80,467.24 L218.38,467.92 L220.96,468.50 L226.44,469.47 L231.92,470.17 L238.36,470.76 L245.77,471.20 L254.15,471.51 L263.82,471.73 L275.74,471.87 L312.80,471.99" stroke="#d40000" stroke-width="2.0" stroke-dasharray="1.9 2.3" stroke-dashoffset="0.28"/>
<path d="M85.94,470.78 L88.51,470.30 L90.77,469.73 L93.03,468.97 L94.96,468.12 L96.89,467.04 L98.50,465.93 L100.12,464.57 L101.73,462.92 L103.34,460.92 L104.63,459.03 L105.92,456.83 L107.20,454.30 L108.49,451.39 L109.46,448.93 L110.75,445.24 L111.72,442.14 L113.01,437.54 L113.97,433.71 L115.91,425.02 L117.84,414.88 L119.77,403.30 L121.38,392.59 L123.32,378.67 L128.47,338.80 L130.08,326.81 L131.70,315.75 L133.31,306.02 L134.27,300.98 L135.24,296.62 L136.21,292.98 L136.85,290.98 L137.82,288.64 L138.46,287.52 L139.11,286.75 L139.43,286.50 L139.75,286.34 L140.07,286.26 L140.40,286.27 L140.72,286.36 L141.04,286.54 L141.69,287.13 L142.33,288.04 L143.30,289.97 L143.94,291.60 L144.91,294.53 L145.87,297.98 L146.84,301.88 L148.45,309.21 L150.06,317.32 L157.80,359.69 L159.73,369.76 L161.66,379.29 L163.92,389.62 L165.85,397.77 L167.79,405.25 L170.04,413.16 L172.30,420.23 L174.55,426.52 L176.81,432.09 L178.10,434.98 L179.39,437.67 L180.68,440.18 L181.97,442.50 L183.26,444.66 L184.54,446.67 L185.83,448.53 L187.44,450.67 L188.73,452.25 L190.35,454.05 L191.96,455.70 L193.57,457.19 L195.18,458.55 L196.79,459.79 L198.40,460.91 L200.33,462.12 L202.27,463.20 L204.20,464.16 L206.14,465.02 L208.39,465.91 L210.65,466.68 L212.90,467.35 L215.48,468.02 L218.06,468.59 L223.54,469.54 L229.34,470.27 L235.78,470.82 L243.19,471.25 L251.57,471.54 L261.56,471.75 L273.81,471.88 L312.80,471.99" stroke="#000000" stroke-width="2.0" stroke-dasharray="1.9 2.3" stroke-dashoffset="1.50"/>
<path d="M85.94,470.68 L88.51,470.17 L90.77,469.56 L93.03,468.76 L94.96,467.86 L96.89,466.73 L98.50,465.56 L100.12,464.13 L101.73,462.40 L103.34,460.32 L104.63,458.35 L105.92,456.06 L107.20,453.43 L108.49,450.41 L109.46,447.86 L110.75,444.04 L111.72,440.84 L112.68,437.34 L113.65,433.50 L115.58,424.80 L117.52,414.64 L119.45,403.03 L121.06,392.29 L122.99,378.31 L128.15,338.19 L129.76,326.11 L131.37,314.96 L132.98,305.17 L133.95,300.10 L134.92,295.71 L135.88,292.07 L136.53,290.07 L137.50,287.74 L138.14,286.64 L138.79,285.90 L139.11,285.66 L139.43,285.51 L139.75,285.45 L140.07,285.47 L140.40,285.59 L140.72,285.78 L141.36,286.42 L142.01,287.38 L142.97,289.38 L143.62,291.07 L144.59,294.08 L145.55,297.62 L146.52,301.61 L148.13,309.08 L149.74,317.33 L157.15,358.39 L159.09,368.60 L161.02,378.25 L163.28,388.73 L165.21,396.98 L167.14,404.56 L169.40,412.57 L171.65,419.73 L173.91,426.10 L176.17,431.74 L177.46,434.66 L178.74,437.38 L180.03,439.91 L181.32,442.26 L182.61,444.44 L183.90,446.47 L185.19,448.35 L186.80,450.51 L188.09,452.10 L189.70,453.93 L191.31,455.58 L192.92,457.09 L194.53,458.46 L196.15,459.71 L198.08,461.05 L200.01,462.25 L201.95,463.32 L203.88,464.27 L205.81,465.12 L208.07,465.99 L210.32,466.75 L212.58,467.42 L215.16,468.08 L217.74,468.64 L223.21,469.58 L229.02,470.29 L235.46,470.84 L242.87,471.26 L251.25,471.55 L261.24,471.75 L273.49,471.88 L312.80,471.99" stroke="#00e000" stroke-width="2.0" stroke-dasharray="1.9 2.3" stroke-dashoffset="4.10"/>
<path d="M85.94,469.80 L88.19,469.13 L90.13,468.40 L92.06,467.49 L93.99,466.34 L95.93,464.91 L97.54,463.46 L99.15,461.71 L100.44,460.07 L101.73,458.18 L103.02,456.00 L104.30,453.50 L105.59,450.64 L106.88,447.36 L107.85,444.61 L109.14,440.51 L110.10,437.09 L111.07,433.34 L112.04,429.26 L113.97,420.00 L115.58,411.13 L117.52,399.08 L119.13,387.91 L120.74,375.85 L125.90,334.16 L127.51,321.57 L129.12,309.99 L130.41,301.80 L131.37,296.42 L132.02,293.25 L132.98,289.16 L133.63,286.91 L134.60,284.25 L135.24,282.98 L135.88,282.11 L136.21,281.83 L136.53,281.64 L136.85,281.56 L137.17,281.57 L137.50,281.67 L138.14,282.16 L138.79,283.02 L139.75,284.96 L140.40,286.65 L141.36,289.75 L142.33,293.44 L143.30,297.66 L144.59,303.94 L146.20,312.63 L153.61,356.30 L155.54,367.10 L157.15,375.63 L159.41,386.74 L161.34,395.45 L163.28,403.42 L165.53,411.79 L167.79,419.24 L170.04,425.82 L172.30,431.62 L173.59,434.62 L174.88,437.40 L176.17,439.98 L177.46,442.38 L178.74,444.59 L180.03,446.65 L181.32,448.55 L182.93,450.73 L184.22,452.33 L185.83,454.17 L187.44,455.83 L189.06,457.34 L190.67,458.71 L192.28,459.95 L193.89,461.07 L195.82,462.29 L197.76,463.37 L199.69,464.33 L201.62,465.18 L203.88,466.06 L206.14,466.82 L208.39,467.49 L210.97,468.14 L213.55,468.70 L216.45,469.24 L219.35,469.69 L225.15,470.38 L231.59,470.90 L239.00,471.30 L248.03,471.60 L258.02,471.78 L270.91,471.90 L312.80,471.99" stroke="#0000f0" stroke-width="2.0" stroke-dasharray="1.9 2.3" stroke-dashoffset="3.04"/>
</g>
<text transform="translate(18.50,380.30) rotate(-90)" text-anchor="middle" font-family="Liberation Serif, serif" font-weight="bold" font-size="20.7" textLength="137.2" lengthAdjust="spacingAndGlyphs" fill="#000" stroke="#000" stroke-width="0.3">Treated human</text>
<text x="185.20" y="509.40" text-anchor="middle" font-family="Liberation Serif, serif" font-weight="bold" font-size="20.7" textLength="108" lengthAdjust="spacingAndGlyphs" fill="#000" stroke="#000" stroke-width="0.3">Time (Days)</text>
<text x="301.20" y="465.50" text-anchor="middle" font-family="Liberation Serif, serif" font-weight="bold" font-size="21" fill="#000" stroke="#000" stroke-width="0.3">c</text>
<g stroke="#000" fill="none" stroke-linecap="butt">
<rect x="409.60" y="270.80" width="264.60" height="201.20" stroke-width="1.80"/>
<path d="M475.75,472.00v-3.40M475.75,270.80v3.40M541.90,472.00v-3.40M541.90,270.80v3.40M608.05,472.00v-3.40M608.05,270.80v3.40M409.60,431.76h3.40M674.20,431.76h-3.40M409.60,391.52h3.40M674.20,391.52h-3.40M409.60,351.28h3.40M674.20,351.28h-3.40M409.60,311.04h3.40M674.20,311.04h-3.40" stroke-width="1.10"/>
</g>
<g font-family="Liberation Sans, sans-serif" font-weight="bold" font-size="12" fill="#000" stroke="#000" stroke-width="0.25">
<text x="409.60" y="488.90" text-anchor="middle">0</text>
<text x="475.75" y="488.90" text-anchor="middle">50</text>
<text x="541.90" y="488.90" text-anchor="middle">100</text>
<text x="608.05" y="488.90" text-anchor="middle">150</text>
<text x="674.20" y="488.90" text-anchor="middle">200</text>
<text x="404.70" y="477.40" text-anchor="end">0</text>
<text x="404.70" y="437.16" text-anchor="end">0.2</text>
<text x="404.70" y="396.92" text-anchor="end">0.4</text>
<text x="404.70" y="356.68" text-anchor="end">0.6</text>
<text x="404.70" y="316.44" text-anchor="end">0.8</text>
<text x="404.70" y="276.20" text-anchor="end">1</text>
</g>
<g clip-path="url(#cpd)" fill="none" stroke-width="2.20" stroke-linejoin="round">
<path d="M409.60,472.00 L440.03,471.99 L451.27,471.90 L455.57,471.78 L459.21,471.60 L462.19,471.35 L464.84,471.01 L467.81,470.44 L470.46,469.70 L472.77,468.79 L475.09,467.59 L477.07,466.26 L479.06,464.60 L481.04,462.56 L482.70,460.53 L484.35,458.17 L486.00,455.45 L487.66,452.35 L489.31,448.86 L490.96,444.96 L492.62,440.65 L494.27,435.93 L495.93,430.84 L498.90,420.79 L501.88,409.80 L504.86,398.16 L512.46,367.71 L514.78,358.82 L516.76,351.51 L519.41,342.29 L521.72,334.78 L524.04,327.85 L526.35,321.50 L529.00,314.96 L531.65,309.16 L534.29,304.06 L535.62,301.76 L537.27,299.11 L538.59,297.15 L540.25,294.89 L541.57,293.24 L543.22,291.34 L544.55,289.94 L546.20,288.35 L547.85,286.91 L549.51,285.61 L552.48,283.59 L554.14,282.62 L555.79,281.74 L559.10,280.26 L562.74,278.95 L566.71,277.85 L571.01,276.94 L575.97,276.18 L581.26,275.61 L586.55,275.21 L592.50,274.91 L599.45,274.68 L608.05,274.52 L630.21,274.36 L674.20,274.32" stroke="#d40000"/>
<path d="M409.60,472.00 L441.35,471.99 L452.93,471.91 L457.23,471.81 L460.87,471.64 L463.84,471.42 L466.49,471.11 L469.47,470.58 L472.11,469.88 L474.43,469.02 L476.74,467.88 L478.73,466.61 L480.71,465.03 L482.70,463.08 L484.35,461.13 L486.00,458.87 L487.66,456.26 L489.31,453.29 L490.96,449.93 L492.62,446.20 L494.27,442.07 L495.93,437.57 L497.58,432.70 L500.56,423.11 L503.53,412.63 L506.51,401.52 L514.78,369.79 L517.09,361.25 L519.41,353.05 L522.06,344.20 L524.37,336.97 L526.69,330.26 L529.33,323.23 L531.98,316.90 L533.30,313.99 L534.95,310.59 L537.60,305.65 L538.92,303.41 L540.58,300.81 L541.90,298.88 L543.55,296.65 L544.88,295.01 L546.53,293.11 L548.18,291.38 L549.84,289.81 L551.49,288.38 L553.15,287.08 L556.12,285.04 L557.78,284.05 L559.43,283.16 L561.08,282.36 L563.07,281.50 L566.71,280.18 L570.68,279.05 L574.98,278.11 L579.61,277.36 L584.90,276.74 L590.19,276.31 L596.14,275.98 L603.09,275.73 L611.36,275.55 L632.86,275.37 L674.20,275.33" stroke="#000000"/>
<path d="M409.60,472.00 L443.67,471.99 L455.24,471.92 L459.54,471.83 L463.18,471.67 L466.16,471.45 L468.80,471.15 L471.45,470.69 L474.10,470.01 L476.41,469.17 L478.73,468.04 L480.71,466.78 L482.70,465.20 L484.68,463.24 L486.33,461.29 L487.99,459.03 L489.64,456.42 L491.30,453.45 L492.95,450.12 L494.60,446.41 L496.26,442.32 L497.91,437.87 L499.56,433.08 L502.54,423.66 L505.52,413.40 L508.83,401.32 L516.76,371.57 L519.41,362.03 L521.72,354.04 L524.37,345.39 L526.69,338.30 L529.33,330.80 L531.65,324.77 L534.29,318.50 L535.62,315.61 L537.27,312.21 L538.59,309.67 L540.25,306.71 L541.57,304.50 L543.22,301.92 L544.55,300.01 L546.20,297.80 L547.85,295.77 L549.51,293.91 L551.16,292.21 L552.81,290.67 L554.47,289.26 L556.12,287.97 L559.10,285.96 L560.75,284.98 L562.41,284.10 L565.71,282.58 L569.35,281.23 L573.32,280.07 L577.62,279.11 L582.25,278.34 L587.54,277.70 L592.84,277.26 L598.79,276.91 L605.73,276.65 L613.67,276.47 L634.51,276.29 L674.20,276.23" stroke="#00e000"/>
<path d="M409.60,472.00 L459.87,471.96 L466.82,471.80 L469.47,471.64 L471.78,471.41 L474.43,471.00 L477.07,470.37 L479.39,469.56 L481.37,468.62 L483.36,467.40 L485.01,466.14 L487.00,464.29 L488.65,462.42 L490.63,459.77 L492.29,457.18 L493.94,454.23 L495.60,450.92 L497.25,447.24 L498.90,443.19 L500.56,438.79 L502.21,434.05 L505.19,424.77 L508.16,414.68 L511.47,402.81 L519.74,372.37 L522.39,363.01 L524.70,355.16 L527.35,346.67 L529.66,339.71 L532.31,332.32 L534.62,326.38 L537.27,320.19 L538.59,317.33 L540.25,313.98 L541.57,311.46 L543.22,308.52 L544.55,306.33 L546.20,303.77 L547.52,301.87 L549.18,299.67 L550.83,297.65 L552.48,295.80 L554.14,294.11 L555.79,292.56 L557.45,291.15 L559.10,289.87 L562.08,287.84 L563.73,286.87 L565.38,285.98 L568.69,284.45 L572.33,283.10 L576.30,281.93 L580.60,280.96 L585.23,280.18 L590.52,279.54 L595.48,279.11 L601.44,278.75 L608.05,278.49 L615.99,278.30 L636.49,278.11 L674.20,278.05" stroke="#0000f0"/>
<path d="M453.26,471.34 L455.91,471.02 L458.22,470.61 L460.20,470.14 L462.19,469.52 L464.17,468.73 L465.83,467.89 L467.48,466.86 L468.80,465.88 L470.46,464.43 L471.78,463.06 L473.10,461.49 L474.43,459.70 L475.75,457.67 L477.07,455.38 L478.40,452.82 L479.72,449.97 L481.70,445.13 L484.02,438.63 L486.33,431.22 L488.65,422.97 L490.63,415.30 L492.95,405.81 L501.55,368.44 L505.52,351.97 L507.83,343.04 L509.82,335.86 L511.80,329.18 L513.79,322.99 L516.10,316.42 L517.42,312.98 L518.75,309.75 L521.06,304.61 L522.39,301.95 L523.71,299.48 L525.03,297.19 L526.35,295.07 L527.68,293.11 L529.00,291.30 L530.32,289.63 L531.98,287.74 L533.30,286.36 L534.95,284.79 L536.28,283.66 L537.93,282.37 L539.58,281.22 L541.24,280.19 L542.89,279.26 L544.88,278.29 L546.53,277.57 L548.52,276.81 L550.50,276.15 L552.48,275.58 L556.78,274.58 L561.75,273.75 L567.37,273.10 L572.99,272.67 L579.27,272.35 L586.55,272.13 L595.48,271.97 L619.63,271.84 L674.20,271.81" stroke="#d40000" stroke-width="2.0" stroke-dasharray="1.9 2.3" stroke-dashoffset="3.50"/>
<path d="M453.26,471.16 L455.57,470.79 L457.56,470.36 L459.54,469.77 L461.20,469.15 L462.85,468.36 L464.17,467.60 L465.83,466.44 L467.15,465.33 L468.47,464.04 L469.80,462.53 L471.12,460.79 L472.44,458.80 L473.77,456.54 L474.76,454.65 L475.75,452.59 L477.07,449.58 L479.06,444.46 L481.04,438.62 L483.03,432.09 L485.34,423.67 L487.33,415.86 L489.31,407.61 L497.91,369.95 L501.88,353.40 L504.19,344.43 L506.18,337.22 L508.16,330.50 L510.15,324.28 L512.46,317.67 L515.11,310.94 L517.42,305.74 L518.75,303.04 L520.07,300.53 L521.39,298.20 L522.72,296.05 L524.04,294.05 L525.69,291.76 L527.02,290.09 L528.67,288.19 L529.99,286.80 L531.65,285.23 L532.97,284.08 L534.62,282.78 L536.28,281.61 L537.93,280.56 L539.58,279.62 L541.57,278.62 L543.22,277.89 L545.21,277.11 L547.19,276.42 L549.18,275.83 L551.49,275.23 L553.81,274.72 L558.77,273.87 L564.72,273.16 L570.34,272.72 L576.96,272.38 L584.57,272.14 L593.83,271.98 L618.63,271.84 L674.20,271.81" stroke="#000000" stroke-width="2.0" stroke-dasharray="1.9 2.3" stroke-dashoffset="1.84"/>
<path d="M453.26,471.14 L455.24,470.82 L457.23,470.40 L459.21,469.82 L460.87,469.20 L462.52,468.43 L463.84,467.67 L465.50,466.53 L466.82,465.43 L468.14,464.14 L469.47,462.64 L470.79,460.90 L472.11,458.92 L473.43,456.66 L474.43,454.77 L475.75,451.98 L476.74,449.69 L478.73,444.55 L480.71,438.69 L482.70,432.12 L484.68,424.90 L486.66,417.12 L488.98,407.48 L497.58,369.66 L501.55,353.09 L503.86,344.12 L505.85,336.92 L507.83,330.22 L509.82,324.02 L512.13,317.43 L514.78,310.73 L517.09,305.56 L518.42,302.88 L519.74,300.38 L521.06,298.07 L522.39,295.92 L523.71,293.94 L525.36,291.67 L526.69,290.01 L528.34,288.12 L529.66,286.74 L531.32,285.17 L532.97,283.76 L534.62,282.50 L536.28,281.36 L537.93,280.34 L539.58,279.43 L541.57,278.46 L543.22,277.74 L545.21,276.98 L547.19,276.32 L549.18,275.74 L551.49,275.15 L553.81,274.66 L558.77,273.82 L564.72,273.14 L570.34,272.71 L576.96,272.37 L584.57,272.14 L593.83,271.98 L618.63,271.84 L674.20,271.81" stroke="#00e000" stroke-width="2.0" stroke-dasharray="1.9 2.3" stroke-dashoffset="1.73"/>
<path d="M453.26,470.98 L455.24,470.60 L456.90,470.17 L458.55,469.63 L460.20,468.94 L461.86,468.07 L463.18,467.22 L464.50,466.20 L465.83,465.00 L467.15,463.58 L468.14,462.37 L469.47,460.52 L470.46,458.95 L471.78,456.59 L472.77,454.61 L474.76,450.08 L476.41,445.69 L478.40,439.68 L480.38,432.87 L482.37,425.32 L484.35,417.13 L486.33,408.43 L494.27,371.65 L496.26,362.74 L498.24,354.21 L500.23,346.12 L502.21,338.56 L504.19,331.54 L506.18,325.09 L508.49,318.27 L509.82,314.71 L511.14,311.38 L513.46,306.10 L514.78,303.37 L516.10,300.84 L517.42,298.50 L518.75,296.33 L520.07,294.33 L521.72,292.04 L523.05,290.37 L524.70,288.47 L526.02,287.09 L527.68,285.51 L529.00,284.37 L530.65,283.07 L532.31,281.90 L533.96,280.85 L535.62,279.91 L537.60,278.90 L539.58,278.02 L541.57,277.25 L543.55,276.57 L545.87,275.89 L548.18,275.30 L550.50,274.80 L555.79,273.90 L561.75,273.21 L567.70,272.75 L574.31,272.41 L582.25,272.16 L591.84,271.99 L617.31,271.84 L674.20,271.81" stroke="#0000f0" stroke-width="2.0" stroke-dasharray="1.9 2.3" stroke-dashoffset="3.32"/>
</g>
<text transform="translate(378.30,376.00) rotate(-90)" text-anchor="middle" font-family="Liberation Serif, serif" font-weight="bold" font-size="20.7" textLength="161.0" lengthAdjust="spacingAndGlyphs" fill="#000" stroke="#000" stroke-width="0.3">Recovered human</text>
<text x="541.30" y="509.40" text-anchor="middle" font-family="Liberation Serif, serif" font-weight="bold" font-size="20.7" textLength="108" lengthAdjust="spacingAndGlyphs" fill="#000" stroke="#000" stroke-width="0.3">Time (Days)</text>
<text x="653.00" y="464.20" text-anchor="middle" font-family="Liberation Serif, serif" font-weight="bold" font-size="21" fill="#000" stroke="#000" stroke-width="0.3">d</text>
<g stroke="#000" fill="none" stroke-linecap="butt">
<rect x="235.20" y="538.00" width="257.90" height="201.20" stroke-width="1.80"/>
<path d="M299.68,739.20v-3.40M299.68,538.00v3.40M364.15,739.20v-3.40M364.15,538.00v3.40M428.62,739.20v-3.40M428.62,538.00v3.40M235.20,705.67h3.40M493.10,705.67h-3.40M235.20,672.13h3.40M493.10,672.13h-3.40M235.20,638.60h3.40M493.10,638.60h-3.40M235.20,605.07h3.40M493.10,605.07h-3.40M235.20,571.53h3.40M493.10,571.53h-3.40" stroke-width="1.10"/>
</g>
<g font-family="Liberation Sans, sans-serif" font-weight="bold" font-size="12" fill="#000" stroke="#000" stroke-width="0.25">
<text x="235.20" y="756.10" text-anchor="middle">0</text>
<text x="299.68" y="756.10" text-anchor="middle">50</text>
<text x="364.15" y="756.10" text-anchor="middle">100</text>
<text x="428.62" y="756.10" text-anchor="middle">150</text>
<text x="493.10" y="756.10" text-anchor="middle">200</text>
<text x="230.30" y="744.60" text-anchor="end">0</text>
<text x="230.30" y="711.07" text-anchor="end">0.05</text>
<text x="230.30" y="677.53" text-anchor="end">0.1</text>
<text x="230.30" y="644.00" text-anchor="end">0.15</text>
<text x="230.30" y="610.47" text-anchor="end">0.2</text>
<text x="230.30" y="576.93" text-anchor="end">0.25</text>
<text x="230.30" y="543.40" text-anchor="end">0.3</text>
</g>
<g clip-path="url(#cpe)" fill="none" stroke-width="2.20" stroke-linejoin="round">
<path d="M235.20,739.19 L253.58,739.09 L259.38,738.98 L264.21,738.79 L268.40,738.51 L271.95,738.13 L275.17,737.62 L277.75,737.03 L280.33,736.23 L282.91,735.16 L285.17,733.92 L286.46,733.06 L287.42,732.33 L289.36,730.61 L291.29,728.49 L293.23,725.91 L294.84,723.34 L296.45,720.33 L298.06,716.84 L299.68,712.80 L300.96,709.15 L302.58,704.03 L303.87,699.45 L305.48,693.12 L306.77,687.56 L309.02,676.80 L311.60,663.03 L314.18,648.03 L319.34,616.86 L321.60,604.05 L323.53,594.12 L324.50,589.65 L325.46,585.55 L326.43,581.86 L327.40,578.62 L328.37,575.84 L329.33,573.54 L330.30,571.74 L331.27,570.44 L331.59,570.12 L332.23,569.64 L332.56,569.49 L333.20,569.34 L333.52,569.35 L334.17,569.52 L334.49,569.69 L335.14,570.17 L336.10,571.26 L337.07,572.78 L338.04,574.69 L339.33,577.80 L340.29,580.51 L341.58,584.57 L343.52,591.45 L345.77,600.37 L354.16,636.34 L356.41,645.65 L358.35,653.26 L360.60,661.64 L362.86,669.43 L365.12,676.62 L367.37,683.20 L369.63,689.19 L371.89,694.62 L374.14,699.51 L376.72,704.50 L379.30,708.90 L381.88,712.77 L384.46,716.17 L385.75,717.71 L387.36,719.49 L388.97,721.13 L390.58,722.63 L392.20,724.01 L393.81,725.28 L395.42,726.45 L397.35,727.72 L399.29,728.87 L401.22,729.90 L403.16,730.83 L405.41,731.80 L407.35,732.54 L409.60,733.31 L411.86,734.00 L414.44,734.68 L419.60,735.79 L425.08,736.68 L430.88,737.36 L437.65,737.93 L445.39,738.37 L454.09,738.69 L464.41,738.91 L476.98,739.05 L493.10,739.14" stroke="#d40000"/>
<path d="M235.20,739.19 L254.54,739.10 L260.35,739.00 L265.18,738.83 L269.37,738.58 L272.92,738.23 L276.14,737.76 L279.04,737.16 L281.94,736.30 L284.52,735.25 L286.78,734.04 L289.04,732.49 L290.97,730.81 L292.91,728.76 L294.84,726.25 L296.45,723.75 L298.06,720.83 L299.68,717.45 L301.29,713.54 L302.90,709.06 L304.51,703.97 L305.80,699.43 L307.09,694.47 L308.70,687.67 L310.96,677.06 L313.54,663.52 L315.79,650.70 L320.95,620.19 L323.21,607.54 L325.46,596.13 L326.43,591.77 L327.40,587.76 L328.69,583.05 L329.66,580.02 L330.62,577.45 L331.59,575.36 L332.56,573.74 L333.52,572.62 L333.85,572.35 L334.49,571.97 L334.81,571.87 L335.46,571.81 L335.78,571.86 L336.43,572.11 L337.39,572.86 L338.36,574.04 L339.33,575.62 L340.29,577.57 L341.58,580.72 L342.55,583.44 L343.84,587.49 L345.77,594.31 L347.71,601.80 L349.97,611.10 L356.41,638.35 L358.67,647.45 L360.60,654.90 L362.86,663.09 L365.12,670.71 L367.37,677.74 L369.63,684.19 L371.89,690.05 L374.14,695.37 L376.40,700.16 L378.98,705.05 L381.24,708.86 L383.81,712.73 L386.39,716.12 L387.68,717.65 L389.30,719.43 L390.91,721.07 L392.52,722.58 L394.13,723.96 L395.74,725.23 L397.35,726.40 L399.29,727.67 L401.22,728.82 L403.16,729.85 L405.09,730.79 L407.35,731.76 L409.28,732.50 L411.54,733.28 L416.05,734.57 L421.21,735.71 L426.69,736.61 L432.49,737.32 L439.26,737.90 L446.68,738.33 L455.38,738.66 L465.38,738.89 L477.63,739.04 L493.10,739.13" stroke="#000000"/>
<path d="M235.20,739.19 L255.51,739.12 L261.63,739.02 L266.47,738.87 L270.66,738.65 L274.53,738.31 L277.75,737.88 L280.65,737.32 L283.56,736.53 L286.14,735.57 L288.39,734.46 L290.65,733.03 L291.94,732.04 L292.91,731.21 L294.84,729.25 L296.77,726.87 L298.39,724.50 L300.00,721.74 L301.61,718.53 L303.22,714.83 L304.83,710.59 L306.44,705.78 L307.73,701.49 L309.02,696.79 L310.64,690.36 L311.93,684.77 L313.21,678.79 L315.79,665.79 L318.05,653.51 L323.21,624.36 L325.46,612.29 L327.72,601.40 L328.69,597.23 L329.66,593.40 L330.95,588.88 L331.91,585.97 L332.88,583.49 L333.85,581.46 L334.81,579.88 L335.78,578.77 L336.10,578.50 L336.75,578.11 L337.07,577.99 L337.72,577.91 L338.04,577.94 L338.68,578.15 L339.65,578.81 L340.62,579.88 L341.58,581.34 L342.55,583.16 L343.84,586.09 L344.81,588.64 L346.10,592.45 L348.03,598.89 L350.29,607.24 L358.99,642.22 L361.25,650.92 L363.18,658.05 L365.44,665.89 L367.70,673.20 L369.63,679.01 L371.89,685.27 L374.14,690.98 L376.40,696.16 L378.66,700.85 L381.24,705.63 L383.49,709.35 L386.07,713.14 L388.65,716.46 L391.55,719.72 L393.16,721.33 L394.78,722.81 L396.39,724.17 L398.00,725.42 L399.61,726.56 L401.55,727.82 L403.16,728.77 L405.09,729.80 L407.03,730.74 L409.28,731.72 L411.22,732.46 L413.47,733.24 L417.99,734.54 L423.14,735.68 L428.30,736.54 L434.11,737.26 L440.55,737.84 L447.97,738.29 L456.35,738.63 L466.02,738.86 L477.95,739.02 L493.10,739.12" stroke="#00e000"/>
<path d="M235.20,739.20 L256.48,739.13 L262.92,739.04 L268.08,738.89 L272.60,738.66 L276.46,738.33 L279.69,737.90 L282.59,737.35 L285.49,736.58 L288.07,735.64 L290.33,734.55 L292.58,733.16 L293.87,732.19 L294.84,731.38 L296.77,729.47 L298.71,727.15 L300.32,724.84 L301.93,722.14 L303.54,719.02 L305.16,715.41 L306.77,711.29 L308.38,706.60 L309.99,701.31 L311.28,696.65 L312.89,690.26 L314.18,684.71 L315.47,678.79 L318.05,665.95 L320.31,653.85 L325.46,625.20 L327.72,613.35 L329.98,602.66 L330.95,598.55 L331.91,594.79 L333.20,590.34 L334.17,587.46 L335.14,585.01 L336.10,582.98 L337.07,581.41 L338.04,580.27 L338.36,580.00 L339.00,579.59 L339.33,579.46 L339.97,579.35 L340.29,579.36 L340.94,579.53 L341.91,580.14 L342.87,581.14 L343.52,582.02 L344.16,583.06 L345.13,584.91 L346.42,587.86 L347.39,590.41 L348.68,594.20 L350.61,600.59 L352.87,608.83 L361.57,643.26 L363.83,651.83 L365.76,658.84 L368.02,666.57 L370.28,673.77 L372.21,679.51 L374.47,685.69 L376.72,691.33 L378.98,696.45 L381.24,701.08 L383.49,705.26 L385.75,709.01 L388.33,712.82 L390.91,716.17 L393.81,719.45 L395.42,721.08 L397.03,722.57 L398.64,723.95 L400.26,725.21 L401.87,726.37 L403.80,727.64 L405.41,728.60 L407.35,729.66 L409.28,730.60 L411.22,731.46 L413.15,732.23 L415.41,733.03 L419.92,734.37 L422.50,735.00 L425.08,735.55 L430.24,736.45 L436.04,737.19 L442.49,737.79 L449.58,738.24 L457.64,738.58 L467.31,738.83 L478.59,739.00 L493.10,739.11" stroke="#0000f0"/>
<path d="M262.92,738.51 L266.15,738.14 L268.73,737.69 L270.98,737.15 L273.24,736.43 L275.17,735.62 L277.11,734.57 L279.04,733.24 L280.65,731.85 L282.27,730.16 L283.56,728.55 L285.17,726.17 L286.46,723.91 L287.75,721.31 L289.04,718.31 L290.33,714.88 L291.29,711.99 L292.58,707.69 L293.55,704.11 L295.48,695.97 L297.42,686.46 L299.68,673.62 L301.29,663.35 L303.22,649.99 L308.70,609.15 L310.64,595.28 L312.57,582.65 L314.18,573.50 L315.15,568.73 L316.12,564.57 L317.08,561.05 L318.05,558.20 L319.02,556.04 L319.66,554.99 L319.98,554.57 L320.63,553.97 L320.95,553.79 L321.60,553.64 L322.24,553.78 L322.56,553.96 L323.21,554.52 L324.18,555.86 L325.14,557.75 L326.11,560.16 L327.08,563.04 L328.04,566.33 L329.01,569.98 L330.62,576.74 L332.56,585.68 L340.29,624.43 L342.55,635.25 L344.49,644.05 L346.74,653.68 L349.00,662.58 L351.25,670.72 L353.51,678.12 L355.77,684.81 L358.35,691.64 L360.60,696.96 L363.18,702.36 L365.76,707.09 L367.05,709.23 L368.66,711.71 L369.95,713.55 L371.56,715.69 L372.85,717.27 L374.47,719.09 L376.08,720.77 L377.69,722.31 L379.30,723.73 L381.24,725.27 L383.17,726.66 L385.10,727.91 L387.04,729.04 L388.97,730.05 L390.91,730.96 L393.16,731.92 L395.42,732.76 L398.00,733.60 L400.58,734.34 L403.16,734.97 L406.06,735.59 L408.96,736.12 L414.76,736.95 L421.21,737.62 L428.62,738.15 L437.01,738.53 L446.68,738.81 L458.28,738.99 L473.11,739.11 L493.10,739.17" stroke="#d40000" stroke-width="2.0" stroke-dasharray="1.9 2.3" stroke-dashoffset="3.84"/>
<path d="M262.92,738.28 L265.83,737.85 L268.40,737.29 L270.66,736.63 L272.60,735.88 L274.53,734.93 L276.46,733.71 L278.08,732.44 L279.69,730.89 L281.30,729.02 L282.59,727.23 L283.88,725.16 L285.17,722.77 L286.46,720.00 L287.75,716.82 L289.04,713.19 L290.00,710.13 L291.29,705.59 L292.26,701.81 L294.19,693.22 L296.13,683.20 L298.06,671.73 L299.68,661.13 L301.61,647.31 L307.09,604.99 L309.02,590.67 L310.64,579.77 L312.25,570.22 L313.21,565.26 L314.18,560.97 L315.15,557.37 L315.79,555.38 L316.76,553.01 L317.41,551.85 L317.73,551.40 L318.37,550.74 L318.70,550.53 L319.34,550.36 L319.98,550.52 L320.31,550.71 L320.95,551.32 L321.60,552.22 L322.56,554.08 L323.53,556.52 L324.50,559.47 L325.46,562.89 L326.43,566.70 L328.04,573.79 L329.66,581.57 L337.39,622.05 L339.65,633.33 L341.58,642.48 L343.84,652.47 L345.77,660.39 L348.03,668.89 L350.29,676.60 L352.54,683.56 L355.12,690.64 L357.38,696.14 L359.96,701.71 L362.54,706.58 L363.83,708.78 L365.44,711.33 L366.73,713.21 L368.34,715.40 L369.95,717.40 L371.56,719.24 L373.18,720.92 L374.79,722.47 L376.40,723.88 L378.33,725.42 L380.27,726.81 L382.20,728.06 L384.14,729.18 L386.07,730.19 L388.01,731.10 L390.26,732.04 L392.52,732.88 L395.10,733.71 L397.68,734.44 L400.26,735.07 L403.16,735.68 L406.06,736.20 L411.86,737.02 L418.63,737.70 L426.05,738.20 L434.75,738.58 L444.74,738.84 L456.67,739.01 L493.10,739.17" stroke="#000000" stroke-width="2.0" stroke-dasharray="1.9 2.3" stroke-dashoffset="3.77"/>
<path d="M262.92,738.01 L265.50,737.52 L267.76,736.95 L270.02,736.18 L271.95,735.32 L273.88,734.22 L275.50,733.08 L277.11,731.69 L278.72,730.00 L280.33,727.94 L281.62,726.00 L282.91,723.74 L284.20,721.12 L285.49,718.10 L286.78,714.64 L288.07,710.68 L289.04,707.36 L290.00,703.71 L290.97,699.71 L292.91,690.62 L294.84,679.99 L296.77,667.80 L298.39,656.50 L300.32,641.77 L305.48,599.33 L307.41,584.04 L309.02,572.42 L310.64,562.27 L311.60,557.05 L312.57,552.55 L313.54,548.84 L314.18,546.81 L315.15,544.45 L315.79,543.35 L316.44,542.61 L316.76,542.38 L317.08,542.24 L317.41,542.18 L317.73,542.22 L318.05,542.34 L318.37,542.55 L319.02,543.21 L319.66,544.19 L320.63,546.23 L321.27,547.95 L322.24,551.00 L323.21,554.57 L324.18,558.59 L325.79,566.11 L327.40,574.41 L335.14,617.61 L337.07,627.91 L339.00,637.69 L341.26,648.34 L343.20,656.77 L345.45,665.79 L347.71,673.96 L349.97,681.31 L352.54,688.77 L355.12,695.33 L357.70,701.07 L360.28,706.08 L361.57,708.34 L363.18,710.95 L364.47,712.89 L366.08,715.12 L367.70,717.17 L369.31,719.05 L370.92,720.76 L372.53,722.34 L374.14,723.77 L376.08,725.34 L378.01,726.75 L379.95,728.01 L381.88,729.15 L384.14,730.33 L386.07,731.24 L388.33,732.17 L390.58,733.00 L393.16,733.83 L395.74,734.54 L398.32,735.16 L401.22,735.76 L404.12,736.28 L409.93,737.08 L416.70,737.74 L424.43,738.25 L433.14,738.62 L443.13,738.86 L455.38,739.03 L493.10,739.18" stroke="#00e000" stroke-width="2.0" stroke-dasharray="1.9 2.3" stroke-dashoffset="0.26"/>
<path d="M262.92,737.64 L265.50,737.03 L267.76,736.30 L269.69,735.50 L271.63,734.47 L273.56,733.16 L275.17,731.80 L276.79,730.15 L278.08,728.58 L279.37,726.75 L280.65,724.62 L281.94,722.15 L283.23,719.29 L284.52,716.00 L285.49,713.21 L286.78,709.02 L287.75,705.50 L288.71,701.64 L289.68,697.39 L291.62,687.73 L293.23,678.41 L295.16,665.69 L296.77,653.87 L298.39,641.09 L303.54,596.91 L305.16,583.57 L306.77,571.31 L308.38,560.60 L309.35,555.10 L310.31,550.38 L311.28,546.51 L311.93,544.41 L312.89,542.01 L313.54,540.91 L314.18,540.21 L314.50,540.01 L314.83,539.90 L315.15,539.89 L315.47,539.98 L315.79,540.16 L316.44,540.78 L317.08,541.76 L318.05,543.84 L318.70,545.61 L319.66,548.79 L320.63,552.52 L321.60,556.74 L323.21,564.65 L324.82,573.36 L331.91,614.68 L333.85,625.44 L335.78,635.65 L338.04,646.74 L339.97,655.50 L342.23,664.85 L344.49,673.28 L346.74,680.84 L348.03,684.80 L349.32,688.50 L350.61,691.97 L351.90,695.20 L353.19,698.23 L354.48,701.05 L355.77,703.68 L357.06,706.14 L358.35,708.43 L359.96,711.08 L361.25,713.03 L362.86,715.28 L364.47,717.35 L366.08,719.23 L367.70,720.96 L369.31,722.53 L370.92,723.97 L372.85,725.54 L374.79,726.95 L376.72,728.21 L378.66,729.34 L380.91,730.51 L383.17,731.55 L385.43,732.46 L387.68,733.26 L390.26,734.06 L392.84,734.76 L395.42,735.36 L398.32,735.93 L401.22,736.43 L407.03,737.20 L413.80,737.83 L421.53,738.31 L430.56,738.67 L440.88,738.90 L453.45,739.05 L493.10,739.18" stroke="#0000f0" stroke-width="2.0" stroke-dasharray="1.9 2.3" stroke-dashoffset="1.69"/>
</g>
<text transform="translate(200.00,659.00) rotate(-90)" text-anchor="middle" font-family="Liberation Serif, serif" font-weight="bold" font-size="20.7" textLength="140.8" lengthAdjust="spacingAndGlyphs" fill="#000" stroke="#000" stroke-width="0.3">Infected animal</text>
<text x="365.20" y="776.10" text-anchor="middle" font-family="Liberation Serif, serif" font-weight="bold" font-size="20.7" textLength="108" lengthAdjust="spacingAndGlyphs" fill="#000" stroke="#000" stroke-width="0.3">Time (Days)</text>
<text x="481.00" y="728.80" text-anchor="middle" font-family="Liberation Serif, serif" font-weight="bold" font-size="21" fill="#000" stroke="#000" stroke-width="0.3">e</text>
<g font-family="Liberation Sans, sans-serif" font-weight="bold" font-size="10.3" fill="#000" stroke="#000" stroke-width="0.2">
<path d="M215.5,23.20H240" stroke="#d40000" stroke-width="2" fill="none"/>
<text x="242.6" y="27.00" textLength="60" lengthAdjust="spacingAndGlyphs">BA(h)-BA(r)</text>
<path d="M215.5,37.40H240" stroke="#000000" stroke-width="2" fill="none"/>
<text x="242.6" y="41.20" textLength="60" lengthAdjust="spacingAndGlyphs">ER(h)-BA(r)</text>
<path d="M215.5,51.60H240" stroke="#00e000" stroke-width="2" fill="none"/>
<text x="242.6" y="55.40" textLength="60" lengthAdjust="spacingAndGlyphs">BA(h)-ER(r)</text>
<path d="M215.5,65.90H240" stroke="#0000f0" stroke-width="2" fill="none"/>
<text x="242.6" y="69.70" textLength="60" lengthAdjust="spacingAndGlyphs">ER(h)-ER(r)</text>
<path d="M215.5,80.10H240" stroke="#d40000" stroke-width="2" fill="none" stroke-dasharray="2 2.2"/>
<text x="242.6" y="83.90" textLength="60" lengthAdjust="spacingAndGlyphs">BA(h)-BA(r)</text>
<path d="M215.5,94.40H240" stroke="#000000" stroke-width="2" fill="none" stroke-dasharray="2 2.2"/>
<text x="242.6" y="98.20" textLength="60" lengthAdjust="spacingAndGlyphs">ER(h)-BA(r)</text>
<path d="M215.5,108.60H240" stroke="#00e000" stroke-width="2" fill="none" stroke-dasharray="2 2.2"/>
<text x="242.6" y="112.40" textLength="60" lengthAdjust="spacingAndGlyphs">BA(h)-ER(r)</text>
<path d="M215.5,122.80H240" stroke="#0000f0" stroke-width="2" fill="none" stroke-dasharray="2 2.2"/>
<text x="242.6" y="126.60" textLength="60" lengthAdjust="spacingAndGlyphs">ER(h)-ER(r)</text>
</g>
<path d="M478.60,29.10H552.50" stroke="#000" stroke-width="2.5" fill="none"/><path d="M542.80,23.30L552.80,29.10L542.80,34.90" stroke="#000" stroke-width="2.8" fill="none" stroke-linejoin="miter" stroke-linecap="round"/>
<path d="M481.10,128.30H529.30" stroke="#000" stroke-width="2.5" fill="none"/><path d="M519.60,122.50L529.60,128.30L519.60,134.10" stroke="#000" stroke-width="2.8" fill="none" stroke-linejoin="miter" stroke-linecap="round"/>
<text x="559.70" y="35.70" font-family="Liberation Serif, serif" fill="#000" font-size="22.5" stroke="#000" stroke-width="0.45">&lt;</text><text x="580.70" y="35.10" font-family="Liberation Serif, serif" fill="#000" font-size="20.7" font-weight="bold" font-style="italic">k</text><text x="599.90" y="35.70" font-family="Liberation Serif, serif" fill="#000" font-size="22.5" stroke="#000" stroke-width="0.45">&gt;</text><text transform="translate(615.30,35.10) scale(1.22,1.05)" font-family="Liberation Serif, serif" fill="#000" font-size="20.7" font-weight="bold">=</text><text x="637.30" y="35.10" font-family="Liberation Serif, serif" fill="#000" font-size="20.7" font-weight="bold" textLength="22.8" lengthAdjust="spacingAndGlyphs">16</text>
<text x="536.30" y="135.30" font-family="Liberation Serif, serif" fill="#000" font-size="22.5" stroke="#000" stroke-width="0.45">&lt;</text><text x="557.30" y="134.70" font-family="Liberation Serif, serif" fill="#000" font-size="20.7" font-weight="bold" font-style="italic">k</text><text x="576.50" y="135.30" font-family="Liberation Serif, serif" fill="#000" font-size="22.5" stroke="#000" stroke-width="0.45">&gt;</text><text transform="translate(591.90,134.70) scale(1.22,1.05)" font-family="Liberation Serif, serif" fill="#000" font-size="20.7" font-weight="bold">=</text><text x="613.90" y="134.70" font-family="Liberation Serif, serif" fill="#000" font-size="20.7" font-weight="bold" textLength="11.0" lengthAdjust="spacingAndGlyphs">8</text>
</svg>
</body></html>
